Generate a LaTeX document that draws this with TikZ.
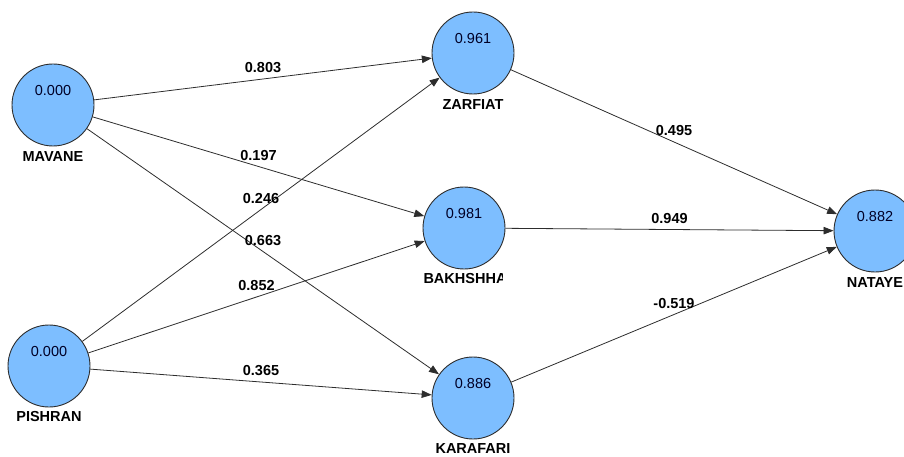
\documentclass[tikz,border=0pt]{standalone}
\usepackage{fontspec}
\setmainfont{Liberation Sans}
\usetikzlibrary{arrows.meta}
\definecolor{circfill}{RGB}{125,190,255}
\definecolor{linecol}{RGB}{45,45,45}
\tikzset{
  latent/.style={circle, draw=linecol, line width=0.9pt, fill=circfill, minimum size=82pt, inner sep=0pt},
  valtext/.style={font=\fontsize{14.5}{16}\selectfont, text=black!85!blue, inner sep=0pt},
  nametext/.style={font=\fontsize{14.5}{16}\selectfont\bfseries, inner sep=0pt},
  pathline/.style={draw=linecol, line width=0.8pt, -{Triangle[length=10pt,width=7.5pt]}},
  coef/.style={font=\fontsize{14.5}{16}\selectfont\bfseries, midway, yshift=11pt, inner sep=0pt}
}
\begin{document}
\begin{tikzpicture}[x=1pt,y=-1pt]
\useasboundingbox (0,0) rectangle (904,457);
% latent variables
\node[latent] (mav) at (53,105) {};
\node[latent] (pis) at (49,366) {};
\node[latent] (zar) at (473,53) {};
\node[latent] (bak) at (464,228) {};
\node[latent] (kar) at (473,398) {};
\node[latent] (nat) at (875,231) {};
% values
\node[valtext] (mavv) at ([yshift=14pt]mav.center) {0.000};
\node[valtext] (pisv) at ([yshift=14pt]pis.center) {0.000};
\node[valtext] (zarv) at ([yshift=14pt]zar.center) {0.961};
\node[valtext] (bakv) at ([yshift=14pt]bak.center) {0.981};
\node[valtext] (karv) at ([yshift=14pt]kar.center) {0.886};
\node[valtext] (natv) at ([yshift=14pt]nat.center) {0.882};
% names
\node[nametext] (mavn) at ([yshift=-52pt]mav.center) {MAVANE};
\node[nametext] (pisn) at ([yshift=-51pt]pis.center) {PISHRAN};
\node[nametext] (zarn) at ([yshift=-52pt]zar.center) {ZARFIAT};
\begin{scope}
\clip (400,265) rectangle (502,295);
\node[nametext] (bakn) at ([xshift=1pt,yshift=-51pt]bak.center) {BAKHSHHA};
\end{scope}
\node[nametext] (karn) at ([yshift=-51pt]kar.center) {KARAFARI};
\node[nametext] (natn) at ([yshift=-52pt]nat.center) {NATAYE};
% paths
\draw[pathline] (mav) -- node[coef] (c1) {0.803} (zar);
\draw[pathline] (mav) -- node[coef] (c2) {0.197} (bak);
\draw[pathline] (mav) -- node[coef] (c3) {0.663} (kar);
\draw[pathline] (pis) -- node[coef] (c4) {0.246} (zar);
\draw[pathline] (pis) -- node[coef] (c5) {0.852} (bak);
\draw[pathline] (pis) -- node[coef] (c6) {0.365} (kar);
\draw[pathline] (zar) -- node[coef] (c7) {0.495} (nat);
\draw[pathline] (bak) -- node[coef] (c8) {0.949} (nat);
\draw[pathline] (kar) -- node[coef] (c9) {-0.519} (nat);
\end{tikzpicture}
\end{document}
